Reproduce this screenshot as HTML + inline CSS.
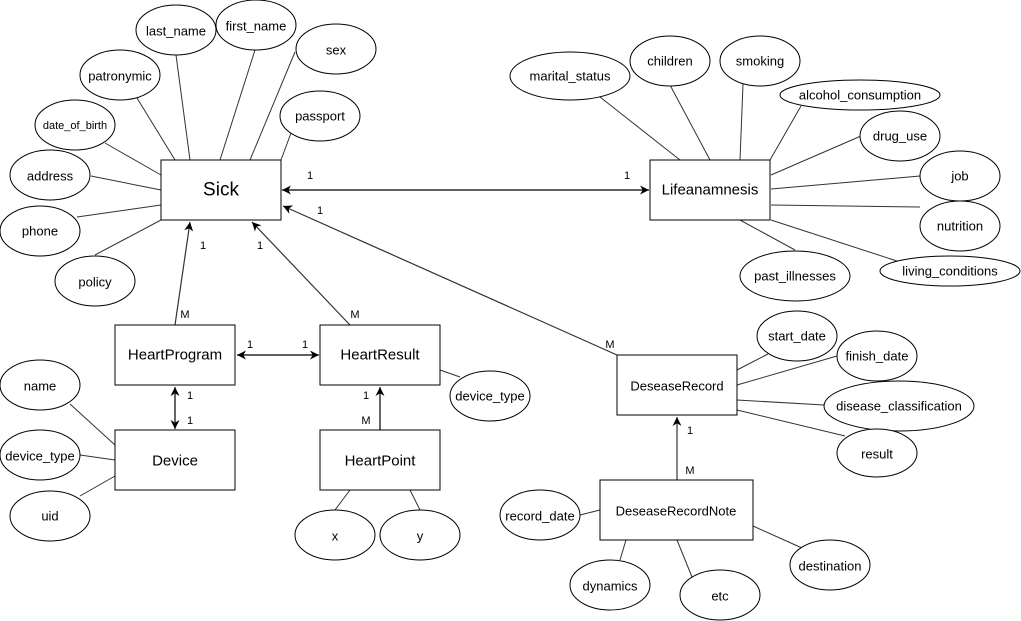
<!DOCTYPE html>
<html><head><meta charset="utf-8"><style>
html,body{margin:0;padding:0;background:#fff;}
svg{display:block;font-family:"Liberation Sans",Arial,sans-serif;}
</style></head><body>
<svg width="1021" height="621" viewBox="0 0 1021 621" xmlns="http://www.w3.org/2000/svg">
<defs>
<marker id="a" viewBox="0 0 10 10" refX="10" refY="5" markerWidth="9" markerHeight="9" orient="auto-start-reverse" markerUnits="userSpaceOnUse">
<path d="M0,0 L10,5 L0,10 L3,5 Z" fill="#000"/></marker>
</defs>
<g stroke="#333" stroke-width="1" fill="none">
<!-- Sick attrs -->
<line x1="176" y1="55" x2="190" y2="160"/>
<line x1="255" y1="50" x2="220" y2="160"/>
<line x1="295" y1="52" x2="250" y2="160"/>
<line x1="291" y1="133" x2="281" y2="160"/>
<line x1="137" y1="98" x2="175" y2="160"/>
<line x1="105" y1="143" x2="161" y2="175"/>
<line x1="91" y1="176" x2="161" y2="190"/>
<line x1="77" y1="217" x2="161" y2="205"/>
<line x1="95" y1="255" x2="161" y2="220"/>
<!-- Life attrs -->
<line x1="600" y1="97" x2="680" y2="160"/>
<line x1="670" y1="85" x2="710" y2="160"/>
<line x1="743" y1="84" x2="740" y2="160"/>
<line x1="801" y1="106" x2="770" y2="160"/>
<line x1="861" y1="136" x2="771" y2="175"/>
<line x1="920" y1="176" x2="771" y2="189"/>
<line x1="920" y1="207" x2="771" y2="205"/>
<line x1="900" y1="262" x2="771" y2="220"/>
<line x1="740" y1="220" x2="795" y2="250"/>
<!-- device attrs -->
<line x1="70" y1="404" x2="115" y2="445"/>
<line x1="80" y1="455" x2="115" y2="460"/>
<line x1="80" y1="496" x2="115" y2="476"/>
<line x1="335" y1="510" x2="350" y2="490"/>
<line x1="420" y1="510" x2="410" y2="490"/>
<line x1="460" y1="377" x2="440" y2="370"/>
<!-- DR attrs -->
<line x1="768" y1="354" x2="737" y2="370"/>
<line x1="837" y1="356" x2="737" y2="385"/>
<line x1="824" y1="405" x2="737" y2="400"/>
<line x1="845" y1="436" x2="737" y2="410"/>
<line x1="580" y1="515" x2="600" y2="510"/>
<line x1="620" y1="560" x2="626" y2="540"/>
<line x1="692" y1="577" x2="677" y2="540"/>
<line x1="802" y1="548" x2="753" y2="526"/>
</g>
<g stroke="#000" stroke-width="1.2" fill="none">
<line x1="282" y1="190" x2="649" y2="190" marker-start="url(#a)" marker-end="url(#a)"/>
<line x1="617" y1="355" x2="283" y2="206" marker-end="url(#a)" stroke="#333"/>
<line x1="175" y1="325" x2="190" y2="222" marker-end="url(#a)" stroke="#333"/>
<line x1="350" y1="325" x2="252" y2="222" marker-end="url(#a)" stroke="#333"/>
<line x1="237" y1="355" x2="319" y2="355" marker-start="url(#a)" marker-end="url(#a)"/>
<line x1="175" y1="387" x2="175" y2="429" marker-start="url(#a)" marker-end="url(#a)"/>
<line x1="380" y1="430" x2="380" y2="387" marker-end="url(#a)"/>
<line x1="677" y1="480" x2="677" y2="417" marker-end="url(#a)" stroke="#333"/>
</g>
<g fill="#fff" stroke="#000" stroke-width="1">
<rect x="161" y="160" width="120" height="60"/>
<rect x="650" y="160" width="120" height="60"/>
<rect x="115" y="325" width="120" height="60"/>
<rect x="320" y="325" width="120" height="60"/>
<rect x="115" y="430" width="120" height="60"/>
<rect x="320" y="430" width="120" height="60"/>
<rect x="617" y="355" width="120" height="60"/>
<rect x="600" y="480" width="153" height="60"/>
<ellipse cx="176" cy="30" rx="40" ry="25"/>
<ellipse cx="256" cy="25" rx="40" ry="25"/>
<ellipse cx="336" cy="49" rx="40" ry="25"/>
<ellipse cx="120" cy="75" rx="40" ry="25"/>
<ellipse cx="75" cy="125" rx="40" ry="25"/>
<ellipse cx="320" cy="116" rx="40" ry="25"/>
<ellipse cx="50" cy="175" rx="40" ry="25"/>
<ellipse cx="40" cy="231" rx="40" ry="25"/>
<ellipse cx="95" cy="281" rx="40" ry="25"/>
<ellipse cx="570" cy="76" rx="60" ry="24"/>
<ellipse cx="670" cy="61" rx="40" ry="25"/>
<ellipse cx="760" cy="61" rx="40" ry="25"/>
<ellipse cx="860" cy="95" rx="80" ry="15"/>
<ellipse cx="900" cy="136" rx="40" ry="25"/>
<ellipse cx="960" cy="176" rx="40" ry="25"/>
<ellipse cx="960" cy="226" rx="40" ry="25"/>
<ellipse cx="950" cy="271" rx="70" ry="15"/>
<ellipse cx="795" cy="276" rx="55" ry="25"/>
<ellipse cx="40" cy="385" rx="40" ry="25"/>
<ellipse cx="40" cy="455" rx="40" ry="25"/>
<ellipse cx="50" cy="516" rx="40" ry="25"/>
<ellipse cx="335" cy="535" rx="40" ry="25"/>
<ellipse cx="420" cy="535" rx="40" ry="25"/>
<ellipse cx="490" cy="396" rx="40" ry="25"/>
<ellipse cx="797" cy="336" rx="40" ry="25"/>
<ellipse cx="877" cy="356" rx="40" ry="25"/>
<ellipse cx="899" cy="406" rx="75" ry="25"/>
<ellipse cx="877" cy="453" rx="40" ry="24"/>
<ellipse cx="540" cy="515" rx="40" ry="25"/>
<ellipse cx="610" cy="585" rx="40" ry="25"/>
<ellipse cx="720" cy="595" rx="40" ry="25"/>
<ellipse cx="830" cy="565" rx="40" ry="25"/>
</g>
<g fill="#000" font-size="13" text-anchor="middle" dominant-baseline="central">
<text x="221" y="190" font-size="19">Sick</text>
<text x="710" y="190" font-size="15">Lifeanamnesis</text>
<text x="175" y="355" font-size="15">HeartProgram</text>
<text x="380" y="355" font-size="15">HeartResult</text>
<text x="175" y="461" font-size="15">Device</text>
<text x="380" y="461" font-size="15">HeartPoint</text>
<text x="677" y="386">DeseaseRecord</text>
<text x="676" y="511">DeseaseRecordNote</text>
<text x="176" y="31">last_name</text>
<text x="256" y="26">first_name</text>
<text x="336" y="50">sex</text>
<text x="120" y="76">patronymic</text>
<text x="75" y="126" font-size="11">date_of_birth</text>
<text x="320" y="116">passport</text>
<text x="50" y="176">address</text>
<text x="40" y="231">phone</text>
<text x="95" y="282">policy</text>
<text x="570" y="76">marital_status</text>
<text x="670" y="61">children</text>
<text x="760" y="61">smoking</text>
<text x="860" y="95">alcohol_consumption</text>
<text x="900" y="136">drug_use</text>
<text x="960" y="176">job</text>
<text x="960" y="226">nutrition</text>
<text x="950" y="271">living_conditions</text>
<text x="795" y="276">past_illnesses</text>
<text x="40" y="386">name</text>
<text x="40" y="456">device_type</text>
<text x="50" y="516">uid</text>
<text x="335" y="536">x</text>
<text x="420" y="536">y</text>
<text x="490" y="396">device_type</text>
<text x="797" y="336">start_date</text>
<text x="877" y="356">finish_date</text>
<text x="899" y="406">disease_classification</text>
<text x="877" y="454">result</text>
<text x="540" y="516">record_date</text>
<text x="610" y="586">dynamics</text>
<text x="720" y="596">etc</text>
<text x="830" y="566">destination</text>
</g>
<g fill="#000" font-size="11" text-anchor="middle" dominant-baseline="central">
<text x="310" y="176">1</text>
<text x="627" y="176">1</text>
<text x="320" y="211">1</text>
<text x="610" y="345">M</text>
<text x="203" y="246">1</text>
<text x="185" y="315">M</text>
<text x="260" y="246">1</text>
<text x="355" y="315">M</text>
<text x="250" y="345">1</text>
<text x="305" y="345">1</text>
<text x="190" y="396">1</text>
<text x="190" y="421">1</text>
<text x="366" y="396">1</text>
<text x="366" y="421">M</text>
<text x="690" y="431">1</text>
<text x="690" y="471">M</text>
</g>
</svg>
</body></html>
